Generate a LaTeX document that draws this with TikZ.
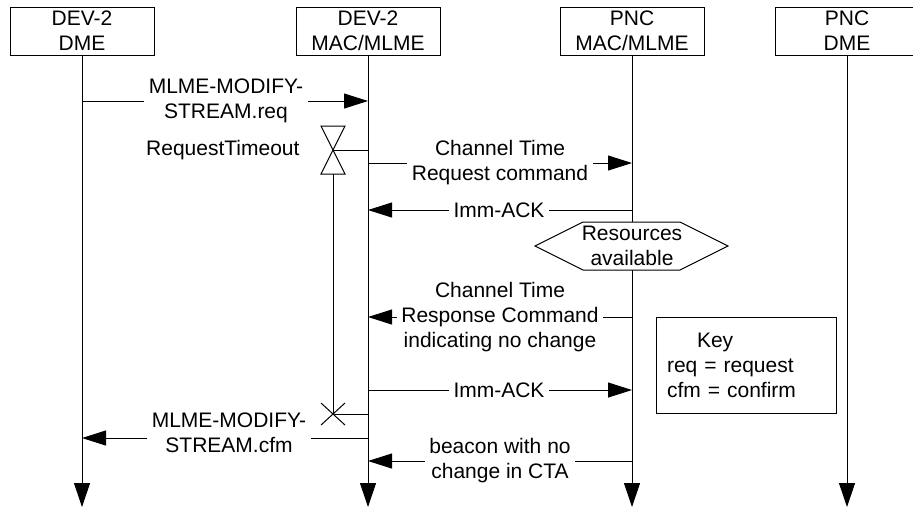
\documentclass[tikz,border=0pt]{standalone}
\usepackage{fontspec}
\setmainfont{Liberation Sans}
\usetikzlibrary{arrows.meta}

\tikzset{
  entity/.style={draw, align=center, minimum width=72pt, minimum height=24pt, inner sep=0pt},
  lifeline/.style={-{Triangle[length=12pt,width=8pt]}},
  msg/.style={-{Triangle[length=12pt,width=7.5pt]}},
  lbl/.style={align=center, inner xsep=2pt, inner ysep=0pt},
}

\begin{document}
\begin{tikzpicture}[x=0.5pt, y=-0.5pt, line width=0.5pt, font=\fontsize{10.5}{12.5}\selectfont]
  \clip (0,0) rectangle (913,511);
  % entities
  \node[entity] (dme1) at (82,31) {DEV-2\\DME};
  \node[entity] (mac1) at (368,31) {DEV-2\\MAC/MLME};
  \node[entity] (mac2) at (632,31) {PNC\\MAC/MLME};
  \node[entity] (dme2) at (847,31) {PNC\\DME};
  % lifelines
  \coordinate (end1) at (82,507);
  \coordinate (end2) at (368,507);
  \coordinate (end3) at (632,507);
  \coordinate (end4) at (847,507);
  \draw[lifeline] (dme1) -- (end1);
  \draw[lifeline] (mac1) -- (end2);
  \draw[lifeline] (mac2) -- (end3);
  \draw[lifeline] (dme2) -- (end4);

  % modify request
  \node[lbl] (req) at (226,101) {MLME-MODIFY-\\STREAM.req};
  \draw (req.west -| dme1) -- (req.west);
  \draw[msg] (req.east) -- (req.east -| mac1);

  % timer
  \coordinate (timer) at (333,150);
  \coordinate (expire) at (333,414);
  \draw (timer) ++(-12,-24) -- ++(24,0) -- ++(-24,48) -- ++(24,0) -- cycle;
  \draw (timer) -- (timer -| mac1);
  \node[anchor=east, inner sep=0pt] (rto) at (300,150) {RequestTimeout};
  \draw (timer) ++(0,24) -- (expire);
  \draw (expire) ++(-12,-11) -- ++(24,22) (expire) ++(-12,11) -- ++(24,-22);
  \draw (expire) -- (expire -| mac1);

  % channel time request
  \node[lbl] (ctreq) at (500,163) {Channel Time\\Request command};
  \draw (ctreq.west -| mac1) -- (ctreq.west);
  \draw[msg] (ctreq.east) -- (ctreq.east -| mac2);

  \node[lbl] (ack1) at (499,210) {Imm-ACK};
  \draw (ack1.east -| mac2) -- (ack1.east);
  \draw[msg] (ack1.west) -- (ack1.west -| mac1);

  % resources
  \coordinate (res) at (632,246);
  \draw[fill=white] (res) ++(-97,0) -- ++(48,-24) -- ++(97,0) -- ++(48,24) -- ++(-48,24) -- ++(-97,0) -- cycle;
  \node[lbl] (restxt) at (res) {Resources\\available};

  % channel time response
  \node[lbl] (ctrsp) at (500,317) {Channel Time\\Response Command\\indicating no change};
  \draw (ctrsp.east -| mac2) -- (ctrsp.east);
  \draw[msg] (ctrsp.west) -- (ctrsp.west -| mac1);

  \node[lbl] (ack2) at (499,390) {Imm-ACK};
  \draw (ack2.west -| mac1) -- (ack2.west);
  \draw[msg] (ack2.east) -- (ack2.east -| mac2);

  % key
  \node[draw, align=left, text width=79pt, inner xsep=5.5pt, minimum height=48pt] (key) at (746,365)
    {\hspace{15pt}Key\\req = request\\cfm = confirm};

  % modify confirm
  \node[lbl] (cfm) at (229,433) {MLME-MODIFY-\\STREAM.cfm};
  \coordinate (cfmL) at ([yshift=-2.5pt]cfm.west);
  \coordinate (cfmR) at ([yshift=-2.5pt]cfm.east);
  \draw (cfmR -| mac1) -- (cfmR);
  \draw[msg] (cfmL) -- (cfmL -| dme1);

  % beacon
  \node[lbl] (bcn) at (500,461) {beacon with no\\change in CTA};
  \draw (bcn.east -| mac2) -- (bcn.east);
  \draw[msg] (bcn.west) -- (bcn.west -| mac1);
\end{tikzpicture}
\end{document}
